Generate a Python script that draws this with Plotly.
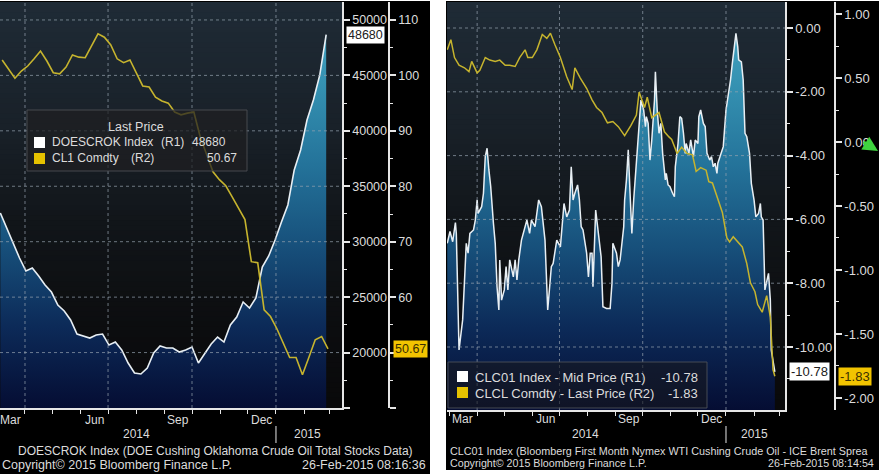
import pandas as pd
import plotly.graph_objects as go

W, H = 879, 474

# ---------------- left chart: DOESCROK Index (R1) / CL1 Comdty (R2), weekly
doe_dates = pd.date_range('2014-03-05', periods=52, freq='7D')
doe_stocks = [32590, 31240, 29880, 28530, 27360, 27630, 26910, 26100, 25460, 24290,
              23750, 22940, 21670, 21490, 21310, 21580, 21670, 20680, 20950, 20230,
              19060, 18160, 18070, 18610, 19960, 20590, 20410, 20410, 20050, 20230,
              20500, 19060, 19870, 20770, 21400, 20950, 22490, 23210, 24560, 24020,
              24920, 27720, 28710, 30150, 31780, 33310, 36470, 38270, 40980, 42780,
              45040, 48680]
cl1_dates = pd.date_range('2014-03-07', periods=52, freq='7D')
cl1_price = [102.8, 101.2, 99.5, 100.8, 101.7, 103.0, 104.4, 102.6, 100.5, 100.3,
             101.5, 103.7, 103.3, 103.2, 105.3, 107.5, 106.9, 105.5, 103.0, 102.3,
             102.8, 100.5, 98.1, 97.9, 96.1, 95.4, 95.0, 93.4, 92.9, 93.2,
             93.4, 88.9, 85.7, 82.6, 81.2, 80.1, 78.1, 76.1, 74.0, 66.4,
             66.2, 57.7, 56.5, 54.3, 51.8, 49.1, 49.1, 46.0, 49.1, 52.3,
             52.9, 50.67]

doe_ticks = [15000, 20000, 25000, 30000, 35000, 40000, 45000, 50000]
doe_ticktext = ['', '20000', '25000', '30000', '35000', '40000', '45000', '50000']
cl1_ticks = [40, 50, 60, 70, 80, 90, 100, 110]
cl1_ticktext = ['', '', '60', '70', '80', '90', '100', '110']

# ---------------- right chart: CLC01 Index (R1) / CLCL Comdty (R2)
clc01_dates = [
    '2014-02-27', '2014-03-02', '2014-03-05', '2014-03-08', '2014-03-09', '2014-03-12', '2014-03-16',
    '2014-03-19', '2014-03-20', '2014-03-22', '2014-03-24', '2014-03-28', '2014-03-30',
    '2014-04-01', '2014-04-02', '2014-04-06', '2014-04-08', '2014-04-10', '2014-04-12', '2014-04-14',
    '2014-04-16', '2014-04-19', '2014-04-21', '2014-04-23', '2014-04-25', '2014-04-26', '2014-04-28',
    '2014-05-01', '2014-05-03', '2014-05-05', '2014-05-07', '2014-05-11', '2014-05-13', '2014-05-15',
    '2014-05-17', '2014-05-20', '2014-05-24', '2014-05-26', '2014-05-29', '2014-05-31',
    '2014-06-04', '2014-06-08', '2014-06-11', '2014-06-15', '2014-06-18', '2014-06-20', '2014-06-22',
    '2014-06-24', '2014-06-28',
    '2014-07-02', '2014-07-05', '2014-07-06', '2014-07-09', '2014-07-12', '2014-07-14', '2014-07-16',
    '2014-07-18', '2014-07-21', '2014-07-23', '2014-07-25', '2014-07-27', '2014-07-31',
    '2014-08-02', '2014-08-04', '2014-08-06', '2014-08-07', '2014-08-10', '2014-08-13', '2014-08-16',
    '2014-08-18', '2014-08-22', '2014-08-26', '2014-08-28', '2014-08-29',
    '2014-09-02', '2014-09-04', '2014-09-06', '2014-09-10', '2014-09-11', '2014-09-13', '2014-09-15',
    '2014-09-17', '2014-09-18', '2014-09-19', '2014-09-21', '2014-09-23', '2014-09-25', '2014-09-27',
    '2014-09-29',
    '2014-10-02', '2014-10-04', '2014-10-05', '2014-10-07', '2014-10-09', '2014-10-11', '2014-10-14',
    '2014-10-15', '2014-10-17', '2014-10-19', '2014-10-21', '2014-10-23', '2014-10-26', '2014-10-27',
    '2014-10-29', '2014-10-31',
    '2014-11-03', '2014-11-05', '2014-11-06', '2014-11-09', '2014-11-11', '2014-11-13', '2014-11-15',
    '2014-11-17', '2014-11-18', '2014-11-21', '2014-11-23', '2014-11-26', '2014-11-28',
    '2014-12-01', '2014-12-02', '2014-12-04', '2014-12-07', '2014-12-09', '2014-12-11', '2014-12-14',
    '2014-12-16', '2014-12-18', '2014-12-20', '2014-12-22', '2014-12-23', '2014-12-27', '2014-12-29',
    '2015-01-01', '2015-01-04', '2015-01-06', '2015-01-08', '2015-01-10', '2015-01-12', '2015-01-14',
    '2015-01-15', '2015-01-18', '2015-01-20', '2015-01-22', '2015-01-24', '2015-01-27', '2015-01-29',
    '2015-02-01', '2015-02-03', '2015-02-06', '2015-02-08', '2015-02-09', '2015-02-11', '2015-02-13',
    '2015-02-17', '2015-02-19', '2015-02-20', '2015-02-24']
clc01_mid = [
    -6.75, -6.38, -6.70, -6.10, -6.44, -10.09, -9.15,
    -7.06, -6.75, -7.06, -6.44, -6.33, -6.02,
    -5.39, -5.81, -5.60, -5.18, -4.03, -3.77, -4.45,
    -4.97, -6.12, -6.75, -8.11, -8.84, -7.27, -8.53,
    -8.21, -7.48, -8.21, -7.27, -7.80, -7.27, -7.90,
    -7.27, -6.65, -6.23, -6.02, -6.44, -6.02,
    -6.23, -5.39, -5.60, -6.65, -8.84, -8.11, -7.48,
    -7.38, -6.65,
    -6.86, -5.81, -5.50, -5.92, -5.71, -4.35, -5.39,
    -5.18, -4.92, -5.39, -6.23, -6.33, -7.06,
    -7.80, -7.06, -7.06, -8.11, -5.71, -6.44, -7.17,
    -8.74, -8.79, -8.79, -8.00, -6.75,
    -7.06, -7.48, -7.27, -6.23, -5.39, -4.76, -3.82,
    -5.18, -5.71, -6.44, -5.39, -4.56, -3.93, -3.09,
    -2.26,
    -2.57, -3.09, -2.78, -2.99, -4.14, -3.51, -2.26,
    -1.37, -2.57, -3.30, -2.99, -3.93, -4.76, -4.56,
    -4.92, -4.97,
    -5.18, -5.29, -4.35, -3.62, -2.78, -2.83, -3.30,
    -3.93, -3.62, -3.93, -3.51, -4.03, -3.51,
    -3.62, -2.78, -2.57, -2.99, -3.09, -3.93, -4.14,
    -4.03, -4.35, -4.24, -4.56, -4.24, -3.93, -3.72,
    -2.57, -2.05, -1.63, -1.11, -0.69, -0.17, -0.59,
    -1.00, -1.06, -1.63, -3.30, -3.41, -3.93, -4.87,
    -5.39, -5.92, -5.81, -5.50, -5.92, -6.02, -8.21,
    -7.69, -8.53, -10.09, -10.78]

clcl_dates = [
    '2014-02-27', '2014-03-03', '2014-03-07', '2014-03-12', '2014-03-18', '2014-03-23', '2014-03-26',
    '2014-04-01', '2014-04-04', '2014-04-10', '2014-04-15', '2014-04-21', '2014-04-26',
    '2014-05-02', '2014-05-07', '2014-05-13', '2014-05-18', '2014-05-24', '2014-05-27',
    '2014-06-01', '2014-06-06', '2014-06-12', '2014-06-17', '2014-06-21', '2014-06-26',
    '2014-07-02', '2014-07-09', '2014-07-15', '2014-07-18', '2014-07-24', '2014-07-31',
    '2014-08-06', '2014-08-11', '2014-08-17', '2014-08-23', '2014-08-29',
    '2014-09-04', '2014-09-11', '2014-09-18', '2014-09-24', '2014-09-27',
    '2014-10-03', '2014-10-06', '2014-10-11', '2014-10-19', '2014-10-25', '2014-10-30',
    '2014-11-02', '2014-11-08', '2014-11-13', '2014-11-19', '2014-11-25', '2014-11-29',
    '2014-12-04', '2014-12-10', '2014-12-13', '2014-12-17', '2014-12-22', '2014-12-28',
    '2015-01-02', '2015-01-05', '2015-01-09', '2015-01-13', '2015-01-19', '2015-01-24', '2015-01-28',
    '2015-02-02', '2015-02-05', '2015-02-10', '2015-02-15', '2015-02-19', '2015-02-22', '2015-02-24']
clcl_spread = [
    0.72, 0.80, 0.66, 0.60, 0.58, 0.55, 0.63,
    0.54, 0.56, 0.66, 0.64, 0.63, 0.64,
    0.60, 0.60, 0.59, 0.66, 0.72, 0.66,
    0.66, 0.72, 0.84, 0.81, 0.85, 0.76,
    0.66, 0.51, 0.41, 0.58, 0.50, 0.42,
    0.33, 0.27, 0.23, 0.15, 0.16,
    0.12, 0.05, 0.13, 0.21, 0.39,
    0.27, 0.35, 0.19, 0.23, 0.08, 0.04,
    0.02, -0.09, -0.04, -0.09, -0.10, -0.23,
    -0.20, -0.22, -0.31, -0.32, -0.43, -0.55,
    -0.75, -0.78, -0.74, -0.77, -0.82, -0.95, -1.10,
    -1.17, -1.27, -1.33, -1.20, -1.37, -1.78, -1.83]

assert len(clc01_dates) == len(clc01_mid)
assert len(clcl_dates) == len(clcl_spread)

clc01_ticks = [0, -2, -4, -6, -8, -10]
clcl_ticks = [1.0, 0.5, 0.0, -0.5, -1.0, -1.5, -2.0]

month_labels = ['Mar', 'Jun', 'Sep', 'Dec']
month_label_dates = ['2014-03-16', '2014-06-16', '2014-09-16', '2014-12-16']
quarter_lines = ['2014-04-01', '2014-07-01', '2014-10-01', '2015-01-01']
left_month_ticks = pd.date_range('2014-04-01', '2015-03-01', freq='MS')
right_month_ticks = pd.date_range('2014-03-01', '2015-03-01', freq='MS')

# ---------------- styling
FONT = 'Liberation Sans, Arial, sans-serif'
AXIS_C = '#e6e6e6'
TXT_C = '#dcdcdc'
GRID = dict(color='rgba(150,162,175,0.7)', width=1, dash='3px,3px')
WHITE_LINE = '#e8eff4'
YELLOW_LINE = '#c6b42e'
TAG_YELLOW = '#f2c400'
FILL_SCALE = [[0.0, '#050d33'], [0.2, '#0c2a58'], [0.4, '#17507b'],
              [0.6, '#24739a'], [0.8, '#3592b2'], [1.0, '#4aa8c4']]
BG_STOPS = [(0.0, (31, 43, 54)), (0.3, (25, 33, 41)), (0.55, (17, 21, 25)),
            (0.8, (12, 13, 15)), (1.0, (9, 9, 10))]


def px(x):
    return x / W


def py(y):
    return 1 - y / H


L_X_RANGE = ['2014-03-04 15:00', '2015-03-14 08:00']
L_Y1 = [15000, 51620]
L_Y2 = [40, 113.25]
R_X_RANGE = ['2014-02-26 17:00', '2015-03-07 05:00']
R_Y1 = [-11.975, 0.815]
R_Y2 = [-2.094, 1.094]


def grid_trace(xrange_, yrange_, yvals, xvals, xaxis, yaxis):
    # dotted grid as one line trace so it sits above the area fill
    gx, gy = [], []
    for v in yvals:
        gx += [xrange_[0], xrange_[1], None]
        gy += [v, v, None]
    for d in xvals:
        gx += [d, d, None]
        gy += [yrange_[0], yrange_[1], None]
    return go.Scatter(x=gx, y=gy, mode='lines', line=GRID, hoverinfo='skip',
                      connectgaps=False, xaxis=xaxis, yaxis=yaxis)


fig = go.Figure()

# left panel
fig.add_trace(go.Scatter(x=[doe_dates[0], doe_dates[-1]], y=[L_Y1[0], L_Y1[0]], mode='lines',
                         line=dict(width=0), hoverinfo='skip', xaxis='x', yaxis='y'))
fig.add_trace(go.Scatter(x=doe_dates, y=doe_stocks, mode='lines', name='DOESCROK Index',
                         line=dict(color=WHITE_LINE, width=1.6), fill='tonexty',
                         fillgradient=dict(type='vertical', colorscale=FILL_SCALE,
                                           start=L_Y1[0], stop=L_Y1[1]),
                         xaxis='x', yaxis='y'))
fig.add_trace(grid_trace(L_X_RANGE, L_Y1, doe_ticks[1:], quarter_lines, 'x', 'y'))
fig.add_trace(go.Scatter(x=cl1_dates, y=cl1_price, mode='lines', name='CL1 Comdty',
                         line=dict(color=YELLOW_LINE, width=1.6), xaxis='x', yaxis='y2'))

# right panel
fig.add_trace(go.Scatter(x=[clc01_dates[0], clc01_dates[-1]], y=[R_Y1[0], R_Y1[0]], mode='lines',
                         line=dict(width=0), hoverinfo='skip', xaxis='x2', yaxis='y3'))
fig.add_trace(go.Scatter(x=clc01_dates, y=clc01_mid, mode='lines', name='CLC01 Index',
                         line=dict(color=WHITE_LINE, width=1.5), fill='tonexty',
                         fillgradient=dict(type='vertical', colorscale=FILL_SCALE,
                                           start=R_Y1[0], stop=R_Y1[1]),
                         xaxis='x2', yaxis='y3'))
fig.add_trace(grid_trace(R_X_RANGE, R_Y1, clc01_ticks, quarter_lines, 'x2', 'y3'))
fig.add_trace(go.Scatter(x=clcl_dates, y=clcl_spread, mode='lines', name='CLCL Comdty',
                         line=dict(color=YELLOW_LINE, width=1.5), xaxis='x2', yaxis='y4'))


def yax(**kw):
    d = dict(showgrid=False, zeroline=False, showline=True, linecolor=AXIS_C, linewidth=1.5,
             ticks='outside', tickcolor=AXIS_C, tickwidth=1.5, ticklen=6, side='right',
             tickmode='array', tickfont=dict(family=FONT, size=12.5, color=TXT_C))
    d.update(kw)
    return d


def xax(**kw):
    d = dict(type='date', showgrid=False, zeroline=False, showline=True, linecolor=AXIS_C,
             linewidth=1.5, ticks='outside', tickcolor=AXIS_C, tickwidth=1, ticklen=4,
             showticklabels=False, tickmode='array')
    d.update(kw)
    return d


def minor(vals):
    return dict(tickmode='array', tickvals=vals, ticks='outside', ticklen=3,
                tickcolor=AXIS_C, tickwidth=1, showgrid=False)


fig.update_layout(
    width=W, height=H, margin=dict(l=0, r=0, t=0, b=0),
    paper_bgcolor='white', plot_bgcolor='rgba(0,0,0,0)', showlegend=False,
    font=dict(family=FONT, color=TXT_C),
    xaxis=xax(domain=[px(0), px(342)], range=L_X_RANGE, anchor='y', tickvals=left_month_ticks),
    yaxis=yax(domain=[py(408), py(2)], range=L_Y1, anchor='x',
              tickvals=doe_ticks, ticktext=doe_ticktext,
              minor=minor([t + 2500 for t in doe_ticks[:-1]])),
    yaxis2=yax(overlaying='y', anchor='free', position=px(389), range=L_Y2,
               tickvals=cl1_ticks, ticktext=cl1_ticktext,
               minor=minor([t + 5 for t in cl1_ticks[:-1]])),
    xaxis2=xax(domain=[px(447), px(785)], range=R_X_RANGE, anchor='y3', tickvals=right_month_ticks),
    yaxis3=yax(domain=[py(410), py(2)], range=R_Y1, anchor='x2',
               tickvals=clc01_ticks, ticktext=['%.2f' % t for t in clc01_ticks],
               minor=minor([t - 1 for t in clc01_ticks]),
               tickfont=dict(family=FONT, size=13, color=TXT_C)),
    yaxis4=yax(overlaying='y3', anchor='free', position=px(835), range=R_Y2,
               tickvals=clcl_ticks, ticktext=['%.2f' % t for t in clcl_ticks],
               minor=minor([t - 0.25 for t in clcl_ticks[:-1]]),
               tickfont=dict(family=FONT, size=13, color=TXT_C)),
)

shapes = []
# black terminal panels
shapes.append(dict(type='rect', xref='paper', yref='paper', x0=0, x1=px(430), y0=0, y1=py(1),
                   fillcolor='black', line=dict(width=0), layer='below'))
shapes.append(dict(type='rect', xref='paper', yref='paper', x0=px(446), x1=1, y0=py(470), y1=py(1),
                   fillcolor='black', line=dict(width=0), layer='below'))


def bg_bands(xref, yref, n=80):
    out = []
    for k in range(n):
        t = (k + 0.5) / n
        for (t0, c0), (t1, c1) in zip(BG_STOPS[:-1], BG_STOPS[1:]):
            if t0 <= t <= t1:
                f = (t - t0) / (t1 - t0)
                c = tuple(round(a + (b - a) * f) for a, b in zip(c0, c1))
                break
        out.append(dict(type='rect', xref=xref, yref=yref, x0=0, x1=1,
                        y0=1 - (k + 1) / n - 0.004, y1=1 - k / n,
                        fillcolor='rgb(%d,%d,%d)' % c, line=dict(width=0), layer='below'))
    return out


shapes += bg_bands('x domain', 'y domain')
shapes += bg_bands('x2 domain', 'y3 domain')

# year separators
shapes.append(dict(type='line', xref='x', yref='paper', x0='2015-01-01', x1='2015-01-01',
                   y0=py(443), y1=py(426), line=dict(color=AXIS_C, width=1)))
shapes.append(dict(type='line', xref='x2', yref='paper', x0='2015-01-01', x1='2015-01-01',
                   y0=py(443), y1=py(426), line=dict(color=AXIS_C, width=1)))

# legend boxes and keys
shapes.append(dict(type='rect', xref='paper', yref='paper', x0=px(27), x1=px(247), y0=py(171), y1=py(110),
                   fillcolor='rgba(30,31,33,0.72)', line=dict(color='rgba(75,78,82,0.9)', width=1),
                   layer='above'))
shapes.append(dict(type='rect', xref='paper', yref='paper', x0=px(448), x1=px(707), y0=py(408), y1=py(362),
                   fillcolor='rgba(22,24,30,0.62)', line=dict(color='rgba(75,80,90,0.9)', width=1),
                   layer='above'))
for x0, y0, col in [(34, 137, 'white'), (34, 153, '#e6c200'), (457, 371, 'white'), (457, 387, '#e6c200')]:
    shapes.append(dict(type='rect', xref='paper', yref='paper', x0=px(x0), x1=px(x0 + 11),
                       y0=py(y0 + 11), y1=py(y0), fillcolor=col, line=dict(width=0), layer='above'))

ann = []


def txt(x, y, s, size, anchor='left', color=TXT_C, **kw):
    d = dict(xref='paper', yref='paper', x=px(x), y=py(y), text=s, showarrow=False,
             xanchor=anchor, yanchor='middle', font=dict(family=FONT, size=size, color=color))
    d.update(kw)
    return d


for lab, d in zip(month_labels, month_label_dates):
    ann.append(dict(xref='x', yref='paper', x=d, y=py(420), text=lab, showarrow=False,
                    xanchor='center', yanchor='middle', font=dict(family=FONT, size=12, color=TXT_C)))
    ann.append(dict(xref='x2', yref='paper', x=d, y=py(419), text=lab, showarrow=False,
                    xanchor='center', yanchor='middle', font=dict(family=FONT, size=12, color=TXT_C)))
for lab, d in [('2014', '2014-08-01'), ('2015', '2015-02-05')]:
    ann.append(dict(xref='x', yref='paper', x=d, y=py(434), text=lab, showarrow=False,
                    xanchor='center', yanchor='middle', font=dict(family=FONT, size=12, color=TXT_C)))
for lab, d in [('2014', '2014-07-30'), ('2015', '2015-02-02')]:
    ann.append(dict(xref='x2', yref='paper', x=d, y=py(434), text=lab, showarrow=False,
                    xanchor='center', yanchor='middle', font=dict(family=FONT, size=12, color=TXT_C)))

# footers
ann.append(txt(215, 451, 'DOESCROK Index (DOE Cushing Oklahoma Crude Oil Total Stocks Data)', 12, 'center'))
ann.append(txt(0, 465, 'Copyright© 2015 Bloomberg Finance L.P.', 12.5))
ann.append(txt(428, 465, '26-Feb-2015 08:16:36', 12.5, 'right'))
ann.append(txt(448, 451, 'CLC01 Index (Bloomberg First Month Nymex WTI Cushing Crude Oil - ICE Brent Sprea', 10.8))
ann.append(txt(448, 463, 'Copyright© 2015 Bloomberg Finance L.P.', 10.7))
ann.append(txt(876, 463, '26-Feb-2015 08:14:54', 10.7, 'right'))

# legends
ann.append(txt(136, 127, 'Last Price', 12.5, 'center'))
ann.append(txt(50, 142, 'DOESCROK Index', 12))
ann.append(txt(159, 142, '(R1)', 12))
ann.append(txt(190, 142, str(doe_stocks[-1]), 12))
ann.append(txt(50, 158, 'CL1 Comdty', 12))
ann.append(txt(129, 158, '(R2)', 12))
ann.append(txt(239, 158, '%.2f' % cl1_price[-1], 12, 'right'))
ann.append(txt(473, 377, 'CLC01 Index - Mid Price (R1)', 13))
ann.append(txt(700, 377, '%.2f' % clc01_mid[-1], 13, 'right'))
ann.append(txt(473, 393, 'CLCL Comdty - Last Price (R2)', 13))
ann.append(txt(700, 393, '%.2f' % clcl_spread[-1], 13, 'right'))

# last value tags on the axes
ann.append(dict(xref='paper', yref='y', x=px(346), y=doe_stocks[-1], text=str(doe_stocks[-1]),
                showarrow=False, xanchor='left', yanchor='middle', bgcolor='white', borderpad=1,
                font=dict(family=FONT, size=12.5, color='#202020')))
ann.append(dict(xref='paper', yref='y2', x=px(393), y=cl1_price[-1], text='%.2f' % cl1_price[-1],
                showarrow=False, xanchor='left', yanchor='middle', bgcolor=TAG_YELLOW, borderpad=1,
                font=dict(family=FONT, size=12.5, color='#3a3000')))
ann.append(dict(xref='paper', yref='y3', x=px(789), y=clc01_mid[-1], text='%.2f' % clc01_mid[-1],
                showarrow=False, xanchor='left', yanchor='middle', bgcolor='white', borderpad=1,
                font=dict(family=FONT, size=13, color='#202020')))
ann.append(dict(xref='paper', yref='y4', x=px(838), y=clcl_spread[-1], text='%.2f' % clcl_spread[-1],
                showarrow=False, xanchor='left', yanchor='middle', bgcolor=TAG_YELLOW, borderpad=1,
                font=dict(family=FONT, size=13, color='#3a3000')))
# green cursor arrow
ann.append(dict(xref='paper', yref='paper', x=px(878), y=py(151), text='', showarrow=True,
                ax=-16, ay=-10, arrowhead=2, arrowsize=1, arrowwidth=3, arrowcolor='#3fd43f'))

fig.update_layout(shapes=shapes, annotations=ann)

fig.write_html("out.html", config={'displayModeBar': False},
               post_script="document.body.style.margin='0';")
